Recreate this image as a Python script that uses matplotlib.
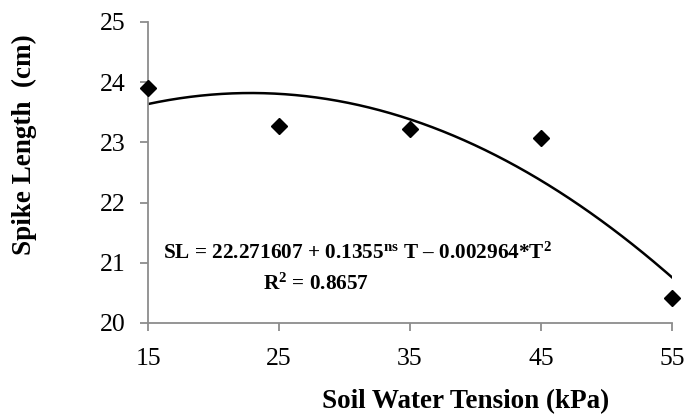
import numpy as np
import matplotlib
matplotlib.use("Agg")
import matplotlib.pyplot as plt

plt.rcParams['font.family'] = ['Liberation Serif', 'DejaVu Serif']
plt.rcParams['mathtext.fontset'] = 'custom'
plt.rcParams['mathtext.rm'] = 'Liberation Serif:bold'
plt.rcParams['mathtext.bf'] = 'Liberation Serif:bold'
plt.rcParams['mathtext.it'] = 'Liberation Serif:bold'

tension = [15, 25, 35, 45, 55]
spike_length = [23.9, 23.27, 23.23, 23.07, 20.42]
fit_coef = [22.271607, 0.1355, -0.002964]  # a + b*T + c*T^2
x_ticks = [15, 25, 35, 45, 55]
y_ticks = [20, 21, 22, 23, 24, 25]

fig = plt.figure(figsize=(6.86, 4.19), dpi=100)
ax = fig.add_axes([148/686, 1-323/419, 524/686, 301/419])

T = np.linspace(min(tension), max(tension), 200)
curve = fit_coef[0] + fit_coef[1] * T + fit_coef[2] * T ** 2
ax.plot(T, curve, color='black', lw=1.8, zorder=2)
ax.plot(tension, spike_length, 'D', color='black', markersize=8.5, zorder=3, clip_on=False)

ax.set_xlim(15, 55)
ax.set_ylim(20, 25)
ax.set_xticks(x_ticks)
ax.set_yticks(y_ticks)
for s in ['top', 'right']:
    ax.spines[s].set_visible(False)
for s in ['left', 'bottom']:
    ax.spines[s].set_color('#8c8c8c')
    ax.spines[s].set_linewidth(1.3)
ax.tick_params(direction='out', length=6, width=1.3, color='#8c8c8c', labelsize=18.5)
ax.tick_params(axis='x', pad=12)
ax.tick_params(axis='y', pad=10)

ax.set_xlabel('Soil Water Tension (kPa)', fontsize=19.5, fontweight='bold')
ax.xaxis.label.set_va('center')
ax.xaxis.set_label_coords(0.607, -0.262)
ax.set_ylabel('Spike Length  (cm)', fontsize=19.5, fontweight='bold')
ax.yaxis.label.set_va('center')
ax.yaxis.set_label_coords(-0.235, 0.591)

ax.text(0.0286, 0.2326, r'SL = 22.271607 + 0.1355$^{\mathbf{ns}}$ T – 0.002964*T$^{\mathbf{2}}$',
        transform=ax.transAxes, fontsize=15.3, fontweight='bold', va='center', ha='left')
ax.text(0.2195, 0.1296, r'R$^{\mathbf{2}}$ = 0.8657',
        transform=ax.transAxes, fontsize=15.3, fontweight='bold', va='center', ha='left')

fig.savefig('out.png', dpi=100)
